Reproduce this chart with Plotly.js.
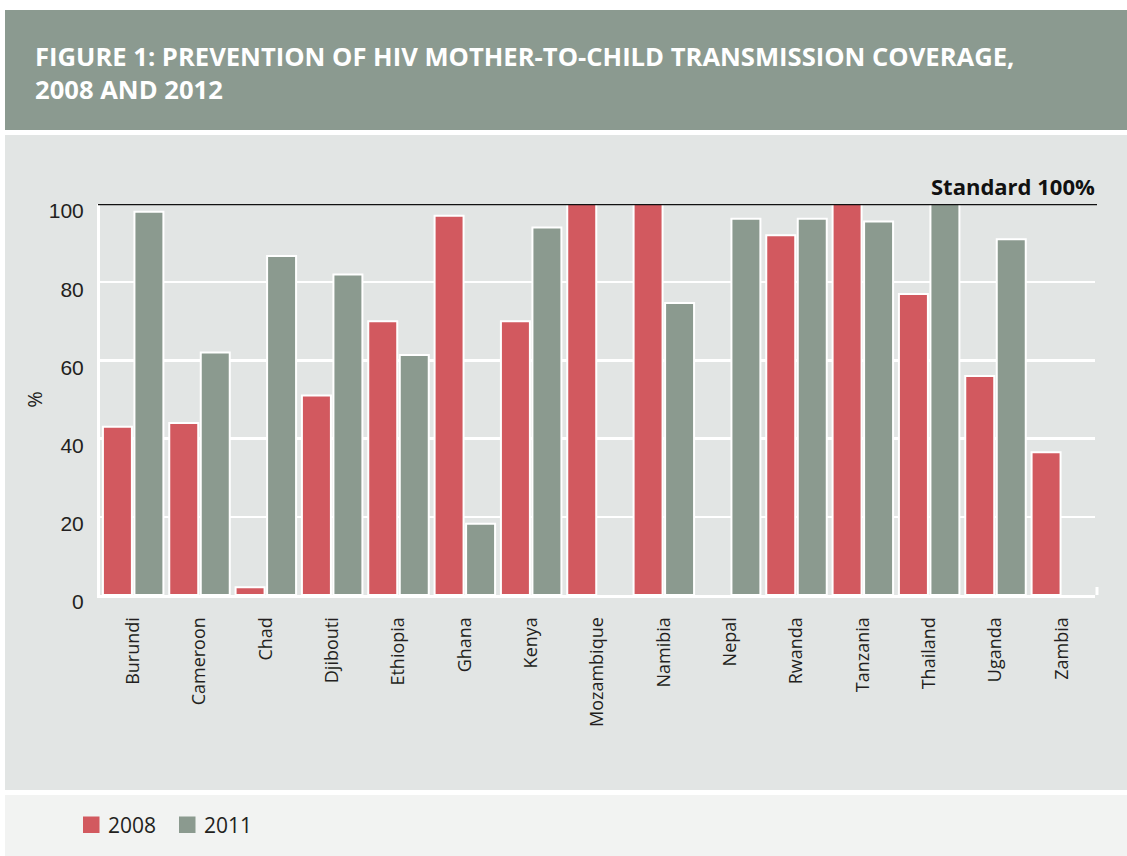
<!DOCTYPE html>
<html>
<head>
<meta charset="utf-8">
<script src="https://cdn.plot.ly/plotly-3.0.1.min.js"></script>
<style>html,body{margin:0;padding:0;background:#fff;}#chart{width:1127px;height:856px;}</style>
</head>
<body>
<div id="chart"></div>
<script>
const countries = ["Burundi","Cameroon","Chad","Djibouti","Ethiopia","Ghana","Kenya","Mozambique","Namibia","Nepal","Rwanda","Tanzania","Thailand","Uganda","Zambia"];
const values2008 = [43, 44, 2, 51, 70, 97, 70, 100, 100, null, 92, 100, 77, 56, 36.5];
const values2011 = [98, 62, 86.7, 82, 61.4, 18.2, 94, null, 74.7, 96.2, 96.2, 95.5, 100, 91, null];
const yTicks = [0, 20, 40, 60, 80, 100];
const seriesNames = ["2008", "2011"];
const standardValue = 100;

const RED = "#d2595f", GRAY = "#8b9a8f";
const COLORS = [RED, GRAY];
const L = 100, R = 32, T = 204, B = 261, W = 1127, H = 856;
const pw = W - L - R, ph = H - T - B;
const px = x => (x - L) / pw;
const py = y => (H - B - y) / ph;

const traces = [
  {type: "bar", name: seriesNames[0], x: countries, y: values2008, showlegend: false,
   marker: {color: COLORS[0], line: {color: "#ffffff", width: 2}}, hoverinfo: "x+y"},
  {type: "bar", name: seriesNames[1], x: countries, y: values2011, showlegend: false,
   marker: {color: COLORS[1], line: {color: "#ffffff", width: 2}}, hoverinfo: "x+y"}
];

const shapes = [
  {type: "rect", xref: "paper", yref: "paper", layer: "below",
   x0: px(5), x1: px(1127), y0: py(130), y1: py(10), fillcolor: "#8b9a90", line: {width: 0}},
  {type: "rect", xref: "paper", yref: "paper", layer: "below",
   x0: px(5), x1: px(1127), y0: py(790), y1: py(135), fillcolor: "#e2e5e4", line: {width: 0}},
  {type: "rect", xref: "paper", yref: "paper", layer: "below",
   x0: px(5), x1: px(1127), y0: py(856), y1: py(795), fillcolor: "#f2f3f2", line: {width: 0}},
  {type: "line", xref: "paper", yref: "paper", layer: "above",
   x0: px(1097), x1: px(1097), y0: py(595), y1: py(587), line: {color: "#ffffff", width: 3}},
  {type: "line", xref: "paper", yref: "y", layer: "above",
   x0: px(98), x1: px(1097), y0: standardValue, y1: standardValue, line: {color: "#111111", width: 2.5}}
];
const annotations = [
  {xref: "paper", yref: "y", x: px(1097), y: standardValue, xanchor: "right", yanchor: "bottom",
   yshift: 1, showarrow: false, text: "<b>Standard 100%</b>",
   font: {family: "Open Sans, sans-serif", size: 22, color: "#111111"}}
];
// legend (custom drawn swatches + labels)
const legendX = [83, 179];
seriesNames.forEach((name, i) => {
  shapes.push({type: "rect", xref: "paper", yref: "paper", layer: "above",
    x0: px(legendX[i]), x1: px(legendX[i] + 16.5), y0: py(833), y1: py(816.5),
    fillcolor: COLORS[i], line: {width: 0}});
  annotations.push({xref: "paper", yref: "paper", x: px(legendX[i] + 23), y: py(825),
    xanchor: "left", yanchor: "middle", showarrow: false, text: name,
    font: {family: "Open Sans, sans-serif", size: 21, color: "#231f20"}});
});

const layout = {
  width: W, height: H,
  margin: {l: L, r: R, t: T, b: B},
  paper_bgcolor: "#ffffff",
  plot_bgcolor: "rgba(0,0,0,0)",
  barmode: "group", bargap: 0.05, bargroupgap: 0.08,
  font: {family: "Open Sans, sans-serif", color: "#231f20"},
  title: {
    text: "FIGURE 1: PREVENTION OF HIV MOTHER-TO-CHILD TRANSMISSION COVERAGE,<br>2008 AND 2012",
    font: {family: "Open Sans, sans-serif", size: 25.6, color: "#ffffff", weight: "bold"},
    xref: "container", yref: "container", x: 35 / W, xanchor: "left",
    y: 1 - 66 / H, yanchor: "top"
  },
  xaxis: {
    type: "category", range: [-0.5, countries.length - 0.5],
    tickangle: -90, ticks: "", ticklabelstandoff: 12,
    tickfont: {family: "Open Sans, sans-serif", size: 18, color: "#231f20"},
    showline: true, linecolor: "#ffffff", linewidth: 3,
    showgrid: false, zeroline: false, fixedrange: true
  },
  yaxis: {
    range: [0, 100], tickvals: yTicks, ticktext: yTicks.map(String),
    ticks: "", ticklabelstandoff: 9, ticklabelshift: 7,
    tickfont: {family: "Liberation Sans Narrow, Arial Narrow, sans-serif", size: 21, color: "#231f20"},
    showgrid: true, gridcolor: "#ffffff", gridwidth: 2.5,
    showline: true, linecolor: "#ffffff", linewidth: 3,
    zeroline: false, fixedrange: true,
    title: {text: "%", standoff: 1, font: {family: "Open Sans, sans-serif", size: 20, color: "#231f20"}}
  },
  showlegend: false,
  shapes: shapes,
  annotations: annotations
};

Plotly.newPlot("chart", traces, layout, {displayModeBar: false, staticPlot: true});
</script>
</body>
</html>
